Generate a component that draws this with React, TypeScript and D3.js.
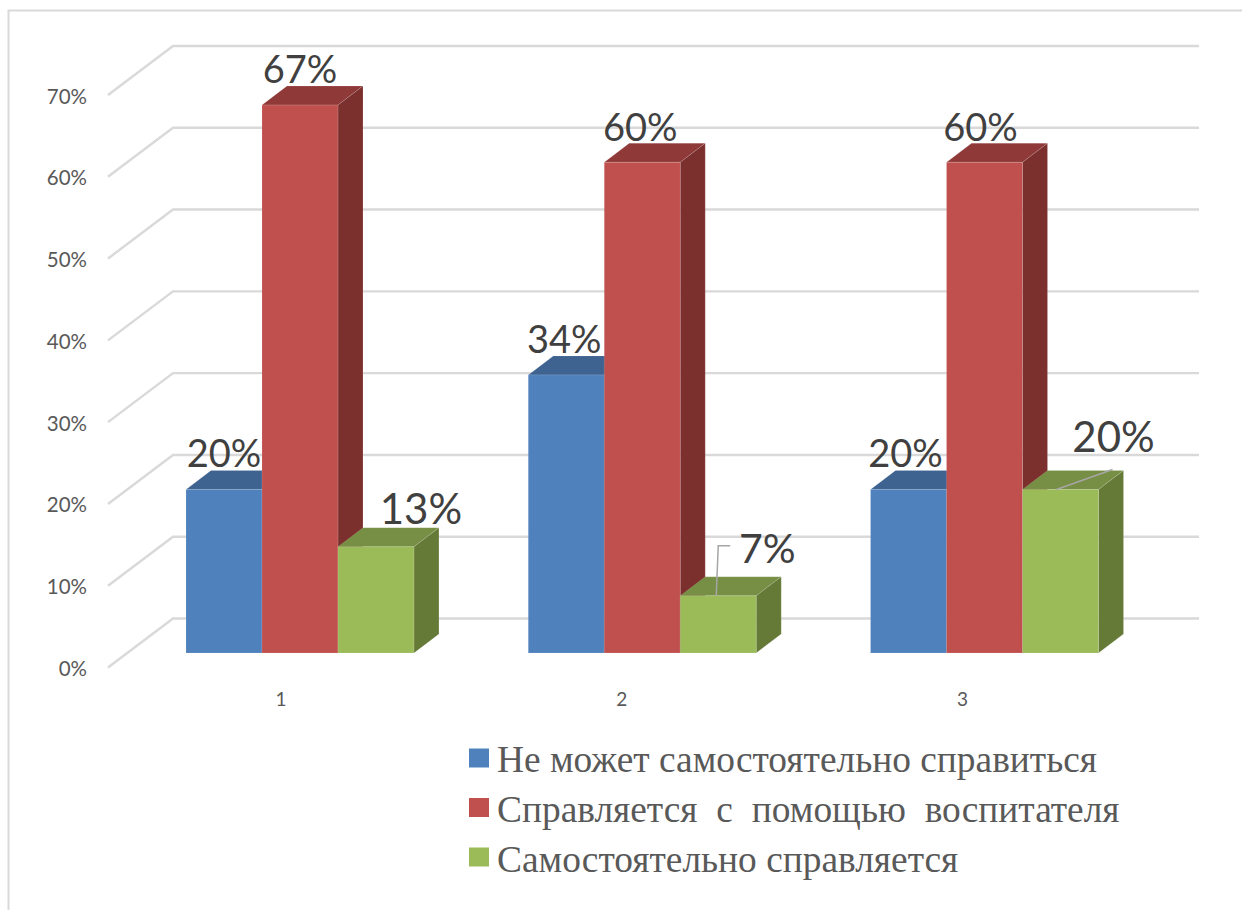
import React from "react";
import * as d3 from "d3";

const categories = ["1", "2", "3"];
const seriesNames = [
  "Не может самостоятельно справиться",
  "Справляется с помощью воспитателя",
  "Самостоятельно справляется",
];
const notCoping = [20, 34, 20];
const withHelp = [67, 60, 60];
const independent = [13, 7, 20];
const yTicks = [0, 10, 20, 30, 40, 50, 60, 70];

const seriesValues = [notCoping, withHelp, independent];
const palette = [
  { front: "#4F81BD", top: "#3E6390", side: "#34547A" },
  { front: "#C0504D", top: "#8F3A38", side: "#7B302E" },
  { front: "#9BBB59", top: "#778F44", side: "#667A38" },
];

// layout
const W = 1242, H = 910;
const depthX = 25, depthY = 19;
const wallX = 65, wallY = 49;
const floorY = 653, plotTopY = 80.5;
const left = 186, right = 1098.5;
const gridRight = 1199;
const labelFont = "Lato, 'Open Sans', sans-serif";

// label tweaks: [series][category] -> dx from bar centre, dy above bar top, font size
const labelAdjust = [
  [{ dx: 0, dy: 22, s: 38 }, { dx: -2, dy: 22, s: 38 }, { dx: -3, dy: 22, s: 38 }],
  [{ dx: 0, dy: 22, s: 38 }, { dx: -2, dy: 21, s: 38 }, { dx: -4, dy: 21, s: 38 }],
  [{ dx: 45, dy: 23, s: 42 }, { dx: 49, dy: 33, s: 41 }, { dx: 53, dy: 37, s: 42 }],
];

export default function App() {
  const y = d3.scaleLinear().domain([0, 70]).range([floorY, plotTopY]);
  const x0 = d3.scaleBand<string>().domain(categories).range([left, right]).paddingInner(0.334);
  const x1 = d3.scaleBand<number>().domain([0, 1, 2]).range([0, x0.bandwidth()]);
  const bw = x1.bandwidth();

  const barX = (s: number, c: number) => (x0(categories[c]) as number) + (x1(s) as number);
  const backOffset = floorY - 618.5;

  return (
    <svg width={W} height={H} style={{ position: "absolute", left: 0, top: 0 }}>
      <rect width={W} height={H} fill="#fff" />
      <path d="M8.5,910 V10.5 H1242" fill="none" stroke="#d9d9d9" strokeWidth={2} />

      {yTicks.map((t) => {
        const by = y(t) - backOffset;
        return (
          <g key={t}>
            <path
              d={d3.line()([
                [108, by + wallY],
                [108 + wallX, by],
                [gridRight, by],
              ]) as string}
              fill="none"
              stroke="#d9d9d9"
              strokeWidth={2.4}
            />
            <text x={87} y={by + wallY + 8.5} textAnchor="end" fontFamily={labelFont} fontSize={20.5} fill="#595959">
              {t}%
            </text>
          </g>
        );
      })}

      {categories.map((cat, c) => (
        <g key={cat}>
          {seriesValues.map((vals, s) => {
            const xa = barX(s, c);
            const xb = xa + bw;
            const yt = y(vals[c]);
            const col = palette[s];
            const poly = (pts: [number, number][]) => (d3.line()(pts) as string) + "Z";
            return (
              <g key={s} stroke="#ffffff" strokeOpacity={0.12} strokeWidth={1}>
                <path d={poly([[xa, yt], [xa + depthX, yt - depthY], [xb + depthX, yt - depthY], [xb, yt]])} fill={col.top} />
                <path d={poly([[xb, yt], [xb + depthX, yt - depthY], [xb + depthX, floorY - depthY], [xb, floorY]])} fill={col.side} />
                <rect x={xa} y={yt} width={bw} height={floorY - yt} fill={col.front} />
              </g>
            );
          })}
          <text
            x={(x0(cat) as number) + x0.bandwidth() / 2 - 19 + c * -1.5}
            y={706}
            textAnchor="middle"
            fontFamily={labelFont}
            fontSize={19}
            fill="#595959"
          >
            {cat}
          </text>
        </g>
      ))}

      {/* leader lines */}
      <path
        d={d3.line()([
          [barX(2, 1) + 36, y(independent[1])],
          [barX(2, 1) + 38, y(independent[1]) - 50],
          [barX(2, 1) + 50, y(independent[1]) - 50],
        ]) as string}
        fill="none" stroke="#a6a6a6" strokeWidth={1.5}
      />
      <path
        d={d3.line()([
          [barX(2, 2) + 34, y(independent[2])],
          [barX(2, 2) + 90, y(independent[2]) - 20],
        ]) as string}
        fill="none" stroke="#a6a6a6" strokeWidth={1.5}
      />

      {seriesValues.map((vals, s) =>
        vals.map((v, c) => {
          const a = labelAdjust[s][c];
          return (
            <text
              key={`${s}-${c}`}
              x={barX(s, c) + bw / 2 + a.dx}
              y={y(v) - a.dy}
              textAnchor="middle"
              fontFamily={labelFont}
              fontSize={a.s}
              fill="#404040"
            >
              {v}%
            </text>
          );
        })
      )}

      {seriesNames.map((name, i) => (
        <g key={name}>
          <rect x={469} y={748.5 + i * 49.5} width={20} height={19} fill={palette[i].front} />
          <text
            x={497}
            y={772 + i * 50}
            fontFamily="'Liberation Serif', serif"
            fontSize={37.4}
            fill="#595959"
            wordSpacing={i === 1 ? 9.5 : 0}
          >
            {name}
          </text>
        </g>
      ))}
    </svg>
  );
}
